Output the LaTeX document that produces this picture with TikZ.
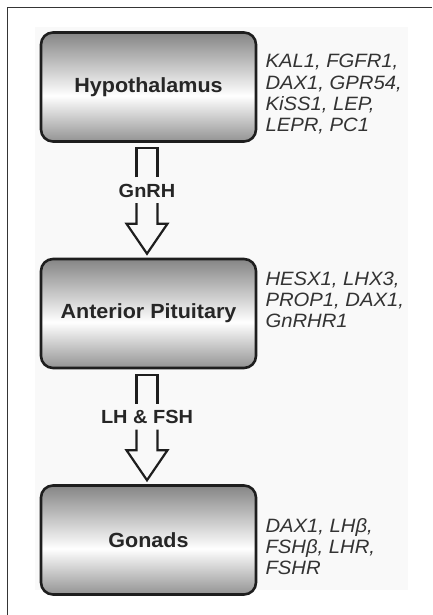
\documentclass[tikz,border=0pt]{standalone}
\usepackage{fontspec}
\setmainfont{Liberation Sans}[FakeStretch=1.05]
\usetikzlibrary{calc}

\definecolor{boxedge}{HTML}{1E1E1E}
\definecolor{inktext}{HTML}{262626}
\definecolor{genetext}{HTML}{333333}
\definecolor{shadetop}{HTML}{858585}
\definecolor{shadebot}{HTML}{939393}
\definecolor{paper}{HTML}{F9F9F9}

% grey-white-grey fill of the organ boxes (white a bit below the middle)
\pgfdeclareverticalshading{organshade}{100bp}{color(0bp)=(shadebot); color(25bp)=(shadebot);
  color(46bp)=(white); color(75bp)=(shadetop); color(100bp)=(shadetop)}

\tikzset{
  organ/.style={draw=boxedge, line width=2.6pt, rounded corners=12pt,
    minimum width=215pt, minimum height=109pt, shading=organshade,
    font=\bfseries\fontsize{20.5}{23}\selectfont, text=inktext},
  genes/.style={anchor=north west, align=left, inner sep=0pt,
    font=\itshape\fontsize{19.3}{21.2}\selectfont, text=genetext},
  hormone/.style={font=\bfseries\fontsize{19}{21}\selectfont, text=inktext,
    text height=13.5pt, text depth=0pt, inner sep=6pt},
  hollow/.style={draw=boxedge, line width=2.2pt, line join=miter}
}

\begin{document}
\begin{tikzpicture}[x=1pt, y=1pt]
    \useasboundingbox (0,0) rectangle (432,615);
    % page frame, top and left only
    \fill[paper] (35,25) rectangle (408,588);
    \draw[boxedge!90, line width=1.3pt] (7.5,0) -- (7.5,607.5) -- (432,607.5);

    % Organs
    \node[organ] (hyp) at (148.5,528) {Hypothalamus};
    \node[organ] (pit) at (148.5,301.5) {Anterior Pituitary};
    \node[organ] (gon) at (148.5,75) {Gonads};

    % Genes beside each organ
    \node[genes] (hypgenes) at ($(hyp.north east)+(8,-23)$) {KAL1, FGFR1,\\DAX1, GPR54,\\KiSS1, LEP,\\LEPR, PC1};
    \node[genes] (pitgenes) at ($(pit.north east)+(8,-14)$) {HESX1, LHX3,\\PROP1, DAX1,\\GnRHR1};
    \node[genes] (gongenes) at ($(gon.north east)+(8,-34)$) {DAX1, LHβ,\\FSHβ, LHR,\\FSHR};

    % Hollow arrows, broken by the hormone name
    \foreach \src/\dst/\lbl/\hname in {hyp/pit/gnrh/GnRH, pit/gon/lhfsh/{LH \& FSH}} {
        \coordinate (\lbl-top) at ($(\src.south)+(-1.5,-5.5)$);
        \coordinate (\lbl-tip) at ($(\dst.north)+(-1.5,4)$);
        \node[hormone] (\lbl) at ($(\lbl-top)+(0,-42)$) {\hname};
        \draw[hollow] ($(\lbl.north -| \lbl-top)+(-10.5,0)$) -- ($(\lbl-top)+(-10.5,0)$)
            -- ($(\lbl-top)+(10.5,0)$) -- ($(\lbl.north -| \lbl-top)+(10.5,0)$);
        \draw[hollow] ($(\lbl.south -| \lbl-top)+(-10.5,0)$) -- ($(\lbl-tip)+(-10.5,30)$)
            -- ($(\lbl-tip)+(-20.5,30)$) -- (\lbl-tip) -- ($(\lbl-tip)+(20.5,30)$)
            -- ($(\lbl-tip)+(10.5,30)$) -- ($(\lbl.south -| \lbl-top)+(10.5,0)$);
    }
\end{tikzpicture}
\end{document}
